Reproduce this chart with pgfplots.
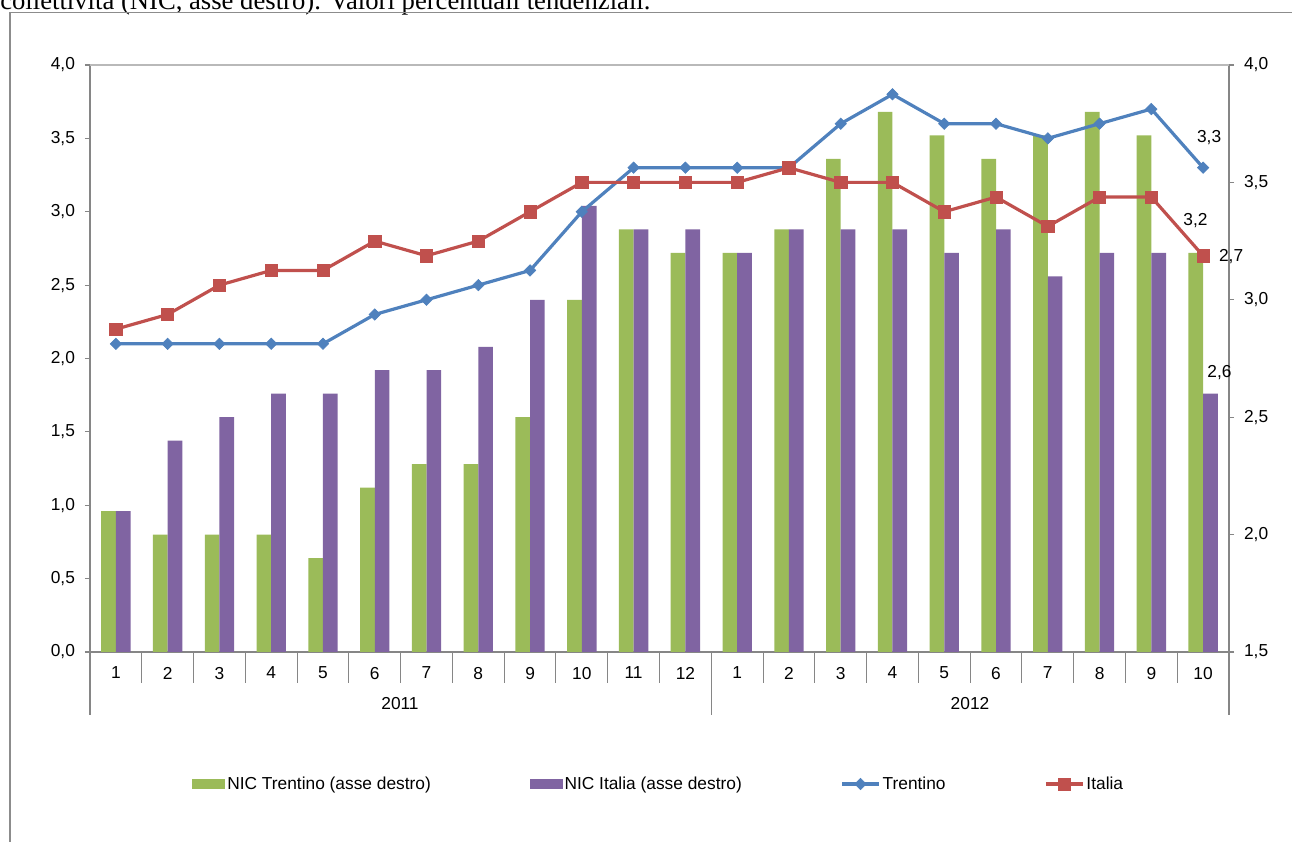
\documentclass[border=0pt]{standalone}
\usepackage{pgfplots}
\pgfplotsset{compat=1.18}
\usepackage{pgfplotstable}
\usepackage{fontspec}
\setmainfont{Liberation Sans}
\newfontfamily\seriffont{Liberation Serif}

\definecolor{nicgreen}{HTML}{9BBB59}
\definecolor{nicpurple}{HTML}{8064A2}
\definecolor{trblue}{HTML}{4F81BD}
\definecolor{itred}{HTML}{C0504D}
\definecolor{axisgray}{HTML}{868686}
\definecolor{framegray}{HTML}{8C8C8C}

% valori tendenziali: NIC (asse destro) e linee (asse sinistro)
\pgfplotstableread{
x  nicT nicI tre ita
1  2.1  2.1  2.1  2.2
2  2.0  2.4  2.1  2.3
3  2.0  2.5  2.1  2.5
4  2.0  2.6  2.1  2.6
5  1.9  2.6  2.1  2.6
6  2.2  2.7  2.3  2.8
7  2.3  2.7  2.4  2.7
8  2.3  2.8  2.5  2.8
9  2.5  3.0  2.6  3.0
10 3.0  3.4  3.0  3.2
11 3.3  3.3  3.3  3.2
12 3.2  3.3  3.3  3.2
13 3.2  3.2  3.3  3.2
14 3.3  3.3  3.3  3.3
15 3.6  3.3  3.6  3.2
16 3.8  3.3  3.8  3.2
17 3.7  3.2  3.6  3.0
18 3.6  3.3  3.6  3.1
19 3.7  3.1  3.5  2.9
20 3.8  3.2  3.6  3.1
21 3.7  3.2  3.7  3.1
22 3.2  2.6  3.3  2.7
}\datatable

\pgfplotsset{
  common/.style={
    scale only axis, width=854.25pt, height=440.25pt,
    at={(67.5pt,142.5pt)}, anchor=south west,
    xmin=0.5, xmax=22.5,
    enlarge x limits=false, enlarge y limits=false,
    axis line style={draw=axisgray, line width=1pt},
    tick style={draw=axisgray, line width=0.8pt},
    major tick length=3.75pt,
    ticklabel style={font=\fontsize{13}{15.5}\selectfont},
    /pgf/number format/fixed,
    /pgf/number format/fixed zerofill,
    /pgf/number format/precision=1,
    /pgf/number format/use comma,
    /pgf/number format/assume math mode=true,
  },
  linelegend/.style={legend image code/.code={
    \draw[mark repeat=2,mark phase=2,##1] plot coordinates {(0pt,0pt) (13.9pt,0pt) (27.75pt,0pt)};}},
  barlegend/.style={legend image code/.code={
    \fill[##1] (0pt,-3.4pt) rectangle (24.75pt,3.4pt);}},
}

\begin{document}
\begin{tikzpicture}[font=\fontsize{13}{15.5}\selectfont]
\useasboundingbox (0,0) rectangle (969pt,631.5pt);
\clip (0,0) rectangle (969pt,631.5pt);

\node[anchor=base west, inner sep=0pt, font=\seriffont\fontsize{20}{23}\selectfont]
  at (0pt,624.5pt) {collettività (NIC, asse destro). Valori percentuali tendenziali.};
\draw[framegray, line width=1pt] (7.5pt,-5pt) -- (7.5pt,622.1pt) -- (975pt,622.1pt);

% barre NIC, asse destro
\begin{axis}[common,
  ybar=0pt, bar width=11pt,
  ymin=1.5, ymax=4,
  axis y line*=right, axis x line*=bottom,
  ytick={1.5,2,2.5,3,3.5,4},
  yticklabel style={xshift=4pt},
  xtick={1,...,22},
  xticklabels={1,2,3,4,5,6,7,8,9,10,11,12,1,2,3,4,5,6,7,8,9,10},
  major x tick style={draw=none},
  minor xtick={0.5,1.5,...,22.5},
  minor tick length=23.25pt,
  xticklabel style={yshift=-4pt},
  tick align=outside,
  clip mode=individual,
]
\addplot[fill=nicgreen, draw=none] table[x=x, y=nicT] {\datatable};
\addplot[fill=nicpurple, draw=none] table[x=x, y=nicI] {\datatable};
\node at (axis cs:22,3.2) [xshift=-5.7pt, yshift=24pt] {3,2};
\node at (axis cs:22,2.6) [xshift=12.3pt, yshift=15.75pt] {2,6};
\end{axis}

% linee, asse sinistro
\begin{axis}[common,
  ymin=0, ymax=4,
  axis y line*=left, axis x line=none,
  xtick=\empty,
  ytick={0,0.5,1,1.5,2,2.5,3,3.5,4},
  yticklabel style={xshift=-4pt},
  tick align=outside,
  clip mode=individual,
  legend columns=4,
  legend style={draw=none, fill=none, at={(0.0896,-0.2249)}, anchor=west,
    inner sep=0pt, font=\fontsize{13}{15.5}\selectfont,
    /tikz/every odd column/.append style={column sep=0.5pt},
    /tikz/every even column/.append style={column sep=73pt},
    nodes={inner sep=1pt}},
]
\addlegendimage{barlegend, fill=nicgreen, draw=none}
\addlegendentry{NIC Trentino (asse destro)}
\addlegendimage{barlegend, fill=nicpurple, draw=none}
\addlegendentry{NIC Italia (asse destro)}
\addplot[trblue, line width=2.4pt, linelegend, mark=square*, mark size=3pt,
  mark options={rotate=45, line width=0.5pt, fill=trblue}] table[x=x, y=tre] {\datatable};
\addlegendentry{Trentino}
\addplot[itred, line width=2.4pt, linelegend, mark=square*, mark size=4.6pt,
  mark options={line width=0.5pt, fill=itred}] table[x=x, y=ita] {\datatable};
\addlegendentry{Italia}
\node at (axis cs:22,3.3) [xshift=4.5pt, yshift=22.5pt] {3,3};
\node at (axis cs:22,2.7) [xshift=21pt, yshift=-0.75pt] {2,7};
\end{axis}

\draw[gray!55, line width=0.8pt] (67.5pt,582.75pt) -- (921.75pt,582.75pt);
\draw[axisgray, line width=0.8pt] (67.5pt,142.5pt) -- (67.5pt,95.25pt);
\draw[axisgray, line width=0.8pt] (533.5pt,142.5pt) -- (533.5pt,95.25pt);
\draw[axisgray, line width=0.8pt] (921.75pt,142.5pt) -- (921.75pt,95.25pt);
\node at (300pt,103.5pt) {2011};
\node at (727.5pt,103.5pt) {2012};
\end{tikzpicture}
\end{document}
